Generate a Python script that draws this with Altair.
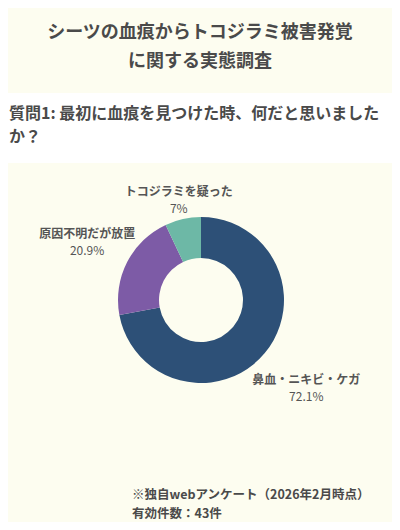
import altair as alt
import pandas as pd

# ---- data ----
title_lines = ["シーツの血痕からトコジラミ被害発覚", "に関する実態調査"]
question_lines = ["質問1: 最初に血痕を見つけた時、何だと思いました", "か？"]
categories = ["鼻血・ニキビ・ケガ", "原因不明だが放置", "トコジラミを疑った"]
percents = [72.1, 20.9, 7.0]
footer_lines = ["※独自webアンケート（2026年2月時点）", "有効件数：43件"]

# ---- styles ----
colors = ["#2d5077", "#7d5ba6", "#6db8a6"]
label_radius = [137, 128, 102]
FONT = "Noto Sans CJK JP"
BG = "#fdfdf0"
TXT = "#4a4a4a"
W, H = 384, 514
CX, CY = 193, 292

df = pd.DataFrame({"label": categories, "pct": percents, "idx": list(range(len(categories)))})
one = pd.DataFrame({"k": [0]})
total = sum(percents)

theta_scale = alt.Scale(domain=[0, total])

band = alt.Chart(one).mark_rect(color="#ffffff").encode(
    x=alt.value(0), x2=alt.value(W), y=alt.value(85), y2=alt.value(155)
)

title = alt.Chart(one).mark_text(
    text=title_lines, font=FONT, fontSize=18, fontWeight="bold", color=TXT,
    align="center", baseline="middle", lineHeight=29,
).encode(x=alt.value(192), y=alt.value(25))

question = alt.Chart(one).mark_text(
    text=question_lines, font=FONT, fontSize=16, fontWeight="bold", color=TXT,
    align="left", baseline="middle", lineHeight=23,
).encode(x=alt.value(1), y=alt.value(106))

footer_layers = [
    alt.Chart(one).mark_text(
        text=line, font=FONT, fontSize=12.5, fontWeight="bold", color=TXT,
        align="left", baseline="middle",
    ).encode(x=alt.value(124), y=alt.value(yy))
    for line, yy in zip(footer_lines, [487, 505.5])
]

arcs = alt.Chart(df).mark_arc(innerRadius=42, outerRadius=83).encode(
    theta=alt.Theta("pct:Q", stack=True, scale=theta_scale),
    color=alt.Color("label:N", scale=alt.Scale(domain=categories, range=colors), legend=None),
    order=alt.Order("idx:Q"),
    x=alt.value(CX), y=alt.value(CY),
)

lab = alt.Chart(df).transform_window(
    cum="sum(pct)", sort=[alt.SortField("idx")], frame=[None, 0]
).transform_calculate(
    mid="datum.cum - datum.pct / 2",
    pct_text="format(datum.pct / 100, '.1~%')",
)

layers = [band, title, question, arcs]
for cat, r in zip(categories, label_radius):
    sub = lab.transform_filter(alt.datum.label == cat)
    enc = dict(
        theta=alt.Theta("mid:Q", stack=False, scale=theta_scale),
        radius=alt.value(r),
        x=alt.value(CX), y=alt.value(CY),
    )
    name = sub.mark_text(
        font=FONT, fontSize=12, fontWeight="bold", color="#555555", dy=-8,
        align="center", baseline="middle",
    ).encode(text="label:N", **enc)
    pct = sub.mark_text(
        font=FONT, fontSize=12, color="#555555", dy=9,
        align="center", baseline="middle",
    ).encode(text="pct_text:N", **enc)
    layers += [name, pct]

layers += footer_layers

chart = alt.layer(*layers).properties(
    width=W, height=H, padding=0, background=BG,
    autosize=alt.AutoSizeParams(type="fit", contains="padding"),
).configure_view(stroke=None)

chart.save("out.html", embed_options={"renderer": "svg", "actions": False})
